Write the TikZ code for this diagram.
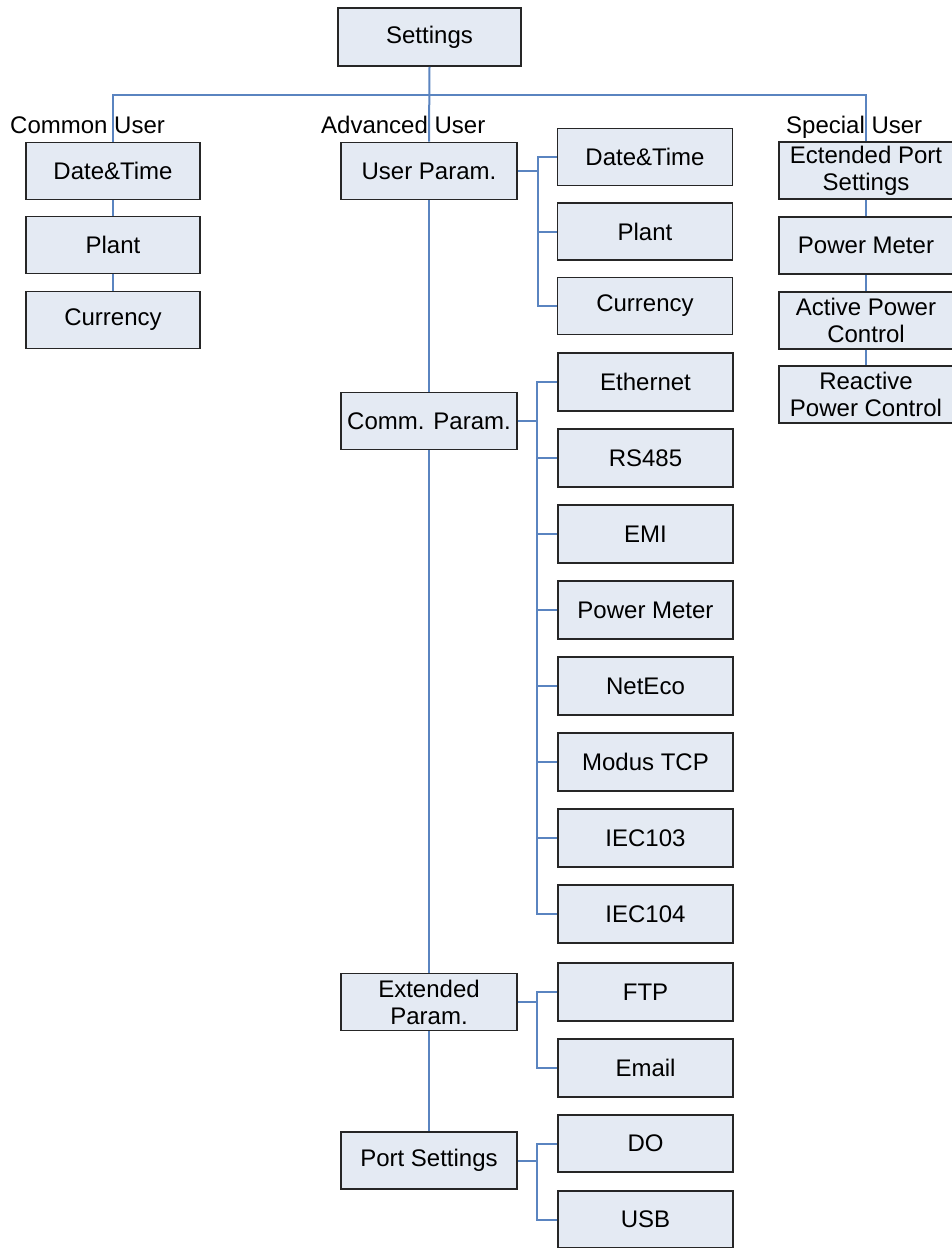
\documentclass[tikz,border=0pt]{standalone}
\usepackage{fontspec}
\setmainfont{Liberation Sans}
\usetikzlibrary{positioning}
\definecolor{boxfill}{HTML}{E4EAF3}
\definecolor{boxline}{HTML}{262626}
\definecolor{linkline}{HTML}{5A84C0}
\tikzset{
  bx/.style={rectangle,draw=boxline,fill=boxfill,line width=1.8pt,font=\fontsize{24}{27}\selectfont,align=center,inner sep=0pt,minimum width=175pt,minimum height=57pt},
  wire/.style={draw=linkline,line width=2pt},
  lay/.style={font=\fontsize{24}{27}\selectfont,anchor=base west,inner sep=0pt},
}
\begin{document}
\begin{tikzpicture}[x=1pt,y=-1pt]
\useasboundingbox (0,0) rectangle (952,1248);
% -root-
\node[bx,minimum width=183pt,minimum height=58pt] (set) at (429.5,37) {Settings};
\coordinate (bus) at (430,95);
\node[lay] (lc) at (10,133) {Common User};
\node[lay] (la) at (321,133) {Advanced User};
\node[lay] (ls) at (786,133) {Special User};
% -common-
\node[bx,minimum width=174pt] (cd) at (113,171) {Date\&Time};
\node[bx,minimum width=174pt] (cp) at (113,245) {Plant};
\node[bx,minimum width=174pt] (cc) at (113,320) {Currency};
% -special-
\node[bx,minimum width=174pt] (sp1) at (866,170.5) {Ectended Port\\Settings};
\node[bx,minimum width=174pt] (sp2) at (866,245.5) {Power Meter};
\node[bx,minimum width=174pt] (sp3) at (866,320.5) {Active Power\\Control};
\node[bx,minimum width=174pt] (sp4) at (866,394.5) {Reactive\\Power Control};
% -advanced-
\node[bx,minimum width=176pt] (up) at (429,171) {User Param.};
\node[bx,minimum width=176pt] (cm) at (429,421) {Comm. Param.};
\node[bx,minimum width=176pt] (ex) at (429,1002) {Extended\\Param.};
\node[bx,minimum width=176pt] (ps) at (429,1160.5) {Port Settings};
\node[bx] (ud) at (645,157) {Date\&Time};
\node[bx] (upl) at (645,231.5) {Plant};
\node[bx] (ucu) at (645,306) {Currency};
\foreach \n/\t [count=\i from 0] in {c1/Ethernet,c2/RS485,c3/EMI,c4/Power Meter,c5/NetEco,c6/Modus TCP,c7/IEC103,c8/IEC104}
  \node[bx,minimum height=58pt] (\n) at (645.5,382+76*\i) {\t};
\node[bx,minimum height=58pt] (e1) at (645.5,992) {FTP};
\node[bx,minimum height=58pt] (e2) at (645.5,1068) {Email};
\node[bx] (p1) at (645.5,1143.5) {DO};
\node[bx] (p2) at (645.5,1219.5) {USB};
% -links-
\draw[wire] (cd.north) |- (bus) -| (sp1.north);
\foreach \a/\b in {set/up,up/cm,cm/ex,ex/ps,cd/cp,cp/cc,sp1/sp2,sp2/sp3,sp3/sp4}
  \draw[wire] (\a.south) -- (\b.north);
\foreach \c in {ud,upl,ucu}
  \draw[wire] (up.east) -- ++(20,0) |- (\c.west);
\foreach \c in {c1,c2,c3,c4,c5,c6,c7,c8}
  \draw[wire] (cm.east) -- ++(19,0) |- (\c.west);
\foreach \c in {e1,e2}
  \draw[wire] (ex.east) -- ++(19,0) |- (\c.west);
\foreach \c in {p1,p2}
  \draw[wire] (ps.east) -- ++(19,0) |- (\c.west);
\end{tikzpicture}
\end{document}
